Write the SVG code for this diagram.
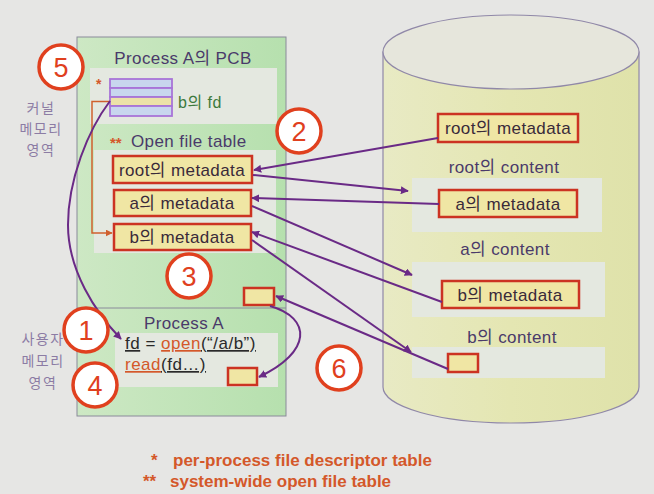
<svg xmlns="http://www.w3.org/2000/svg" width="654" height="494" viewBox="0 0 654 494">
<defs>
<style>
.t{font-family:"Liberation Sans","Noto Sans CJK KR",sans-serif;fill:#4a3a6a;font-size:17px;letter-spacing:0.4px;}
.m{font-family:"Liberation Sans","Noto Sans CJK KR",sans-serif;fill:#3a2a3a;font-size:17px;letter-spacing:0.4px;text-anchor:middle;}
.kr{font-family:"Noto Sans CJK KR",sans-serif;fill:#8c7ca4;font-size:14px;letter-spacing:1.5px;text-anchor:middle;}
.box{fill:#f0e6a4;stroke:#cc3322;stroke-width:2.5;}
.lite{fill:#e4e8e0;}
.num circle{fill:#ffffff;stroke:#e0401e;stroke-width:3.5;}
.num text{font-family:"Liberation Sans",sans-serif;font-size:27px;fill:#e0401e;text-anchor:middle;}
.arr{fill:none;stroke:#6a2a86;stroke-width:2;marker-end:url(#ah);}
.org{font-family:"Liberation Sans",sans-serif;fill:#d4582a;font-weight:bold;font-size:17px;}
.code{font-family:"Liberation Sans",sans-serif;font-size:17px;letter-spacing:0.5px;fill:#2a2a2a;}
</style>
<marker id="ah" viewBox="0 0 10 10" refX="9" refY="5" markerWidth="8" markerHeight="8" markerUnits="userSpaceOnUse" orient="auto">
<path d="M0,0 L10,5 L0,10 Z" fill="#6a2a86"/>
</marker>
<marker id="ao" viewBox="0 0 10 10" refX="9" refY="5" markerWidth="7" markerHeight="7" markerUnits="userSpaceOnUse" orient="auto">
<path d="M0,0 L10,5 L0,10 Z" fill="#d0602e"/>
</marker>
<linearGradient id="gp" x1="0" y1="0" x2="1" y2="0">
<stop offset="0" stop-color="#cde8c4"/>
<stop offset="1" stop-color="#b6e0ae"/>
</linearGradient>
<linearGradient id="gc" x1="0" y1="0" x2="1" y2="0">
<stop offset="0" stop-color="#e8eac4"/>
<stop offset="0.5" stop-color="#e4e6b2"/>
<stop offset="1" stop-color="#dfe2aa"/>
</linearGradient>
</defs>
<rect width="654" height="494" fill="#e6e6e4"/>

<g id="disk">
<path d="M383,52 V387 A128,36 0 0 0 639,387 V52 Z" fill="url(#gc)" stroke="#9088a8" stroke-width="1.2"/>
<ellipse cx="511" cy="52" rx="128" ry="37" fill="#e6e6dc" stroke="#9088a8" stroke-width="1.2"/>
<rect class="lite" x="412" y="178" width="190" height="54"/>
<rect class="lite" x="412" y="262" width="193" height="55"/>
<rect class="lite" x="412" y="347" width="193" height="31"/>
<text class="t" x="504" y="173" text-anchor="middle">root의 content</text>
<text class="t" x="505" y="255" text-anchor="middle">a의 content</text>
<text class="t" x="512" y="343" text-anchor="middle">b의 content</text>
</g>
<g id="disk-root-meta"><rect class="box" x="438" y="114" width="140" height="28"/><text class="m" x="508" y="134">root의 metadata</text></g>
<g id="disk-a-meta"><rect class="box" x="439" y="190" width="138" height="27"/><text class="m" x="508" y="210">a의 metadata</text></g>
<g id="disk-b-meta"><rect class="box" x="442" y="281" width="137" height="27"/><text class="m" x="510" y="301">b의 metadata</text></g>
<g id="disk-b-data"><rect class="box" x="448" y="354" width="30" height="18"/></g>

<g id="process-panel">
<rect x="77" y="37" width="209" height="379" fill="url(#gp)" stroke="#8a8a9a" stroke-width="1"/>
<line x1="77" y1="308" x2="286" y2="308" stroke="#8a8a9a" stroke-width="1"/>
<rect class="lite" x="90" y="68" width="187" height="56"/>
<rect class="lite" x="94" y="150" width="182" height="103"/>
<rect class="lite" x="115" y="333" width="163" height="54"/>
<text class="t" x="183" y="64" text-anchor="middle">Process A의 PCB</text>
<text x="110" y="148" font-family="Liberation Sans,sans-serif" font-size="15" font-weight="bold" fill="#d4582a">**</text>
<text class="t" x="131" y="147">Open file table</text>
<text class="t" x="184" y="329" text-anchor="middle">Process A</text>
</g>
<g id="fd-table">
<text x="96" y="89" font-family="Liberation Sans,sans-serif" font-size="14" font-weight="bold" fill="#d4582a">*</text>
<rect x="110" y="79" width="62" height="9" fill="#c8d6ee" stroke="#a874d8" stroke-width="1.8"/>
<rect x="110" y="88" width="62" height="9" fill="#c8d6ee" stroke="#a874d8" stroke-width="1.8"/>
<rect x="110" y="97" width="62" height="9" fill="#ece2a8" stroke="#a874d8" stroke-width="1.8"/>
<rect x="110" y="106" width="62" height="10" fill="#c8d6ee" stroke="#a874d8" stroke-width="1.8"/>
<text x="178" y="108" font-family="Liberation Sans,Noto Sans CJK KR,sans-serif" font-size="16" letter-spacing="0.5" fill="#3d7a3d">b의 fd</text>
</g>
<g id="oft-root"><rect class="box" x="113" y="156" width="139" height="27"/><text class="m" x="182" y="176">root의 metadata</text></g>
<g id="oft-a"><rect class="box" x="114" y="190" width="137" height="26"/><text class="m" x="182" y="209">a의 metadata</text></g>
<g id="oft-b"><rect class="box" x="114" y="224" width="137" height="26"/><text class="m" x="182" y="243">b의 metadata</text></g>
<g id="kernel-buf"><rect class="box" x="244" y="288" width="30" height="17"/></g>
<g id="user-buf"><rect class="box" x="228" y="368" width="29" height="17"/></g>
<g id="code">
<text class="code" x="125" y="349"><tspan text-decoration="underline">fd</tspan> <tspan>=</tspan> <tspan fill="#d4582a" text-decoration="underline">open</tspan><tspan text-decoration="underline">(“/a/b”)</tspan></text>
<text class="code" x="125" y="370"><tspan fill="#d4582a" text-decoration="underline">read</tspan><tspan text-decoration="underline">(fd…)</tspan></text>
</g>

<g id="labels">
<text class="kr" x="41" y="113">커널</text>
<text class="kr" x="41" y="134">메모리</text>
<text class="kr" x="41" y="155">영역</text>
<text class="kr" x="43" y="344">사용자</text>
<text class="kr" x="43" y="366">메모리</text>
<text class="kr" x="43" y="388">영역</text>
</g>

<g id="connectors">
<path d="M110,101.5 H92 V233 H112" fill="none" stroke="#d0602e" stroke-width="1.5" marker-end="url(#ao)"/>
<path class="arr" d="M110,101 C88,130 68,180 68,225 C68,270 95,312 121,339"/>
<path class="arr" d="M438,138 L254,170"/>
<path class="arr" d="M253,175 L408,191"/>
<path class="arr" d="M439,204 L252,198"/>
<path class="arr" d="M252,206 L412,275"/>
<path class="arr" d="M442,302 L252,232"/>
<path class="arr" d="M252,240 L411,352"/>
<path class="arr" d="M448,369 L276,296"/>
<path class="arr" d="M270,306 C312,318 312,352 259,377"/>
</g>

<g id="steps">
<g class="num"><circle cx="61" cy="67" r="22"/><text x="61" y="77">5</text></g>
<g class="num"><circle cx="299" cy="131" r="22"/><text x="299" y="141">2</text></g>
<g class="num"><circle cx="189" cy="276" r="22"/><text x="189" y="286">3</text></g>
<g class="num"><circle cx="86" cy="330" r="22"/><text x="86" y="340">1</text></g>
<g class="num"><circle cx="95" cy="385" r="22"/><text x="95" y="395">4</text></g>
<g class="num"><circle cx="339" cy="368" r="22"/><text x="339" y="378">6</text></g>
</g>

<g id="legend">
<text class="org" x="151" y="466">*</text>
<text class="org" x="173" y="466">per-process file descriptor table</text>
<text class="org" x="143" y="487">**</text>
<text class="org" x="170" y="487">system-wide open file table</text>
</g>
</svg>
